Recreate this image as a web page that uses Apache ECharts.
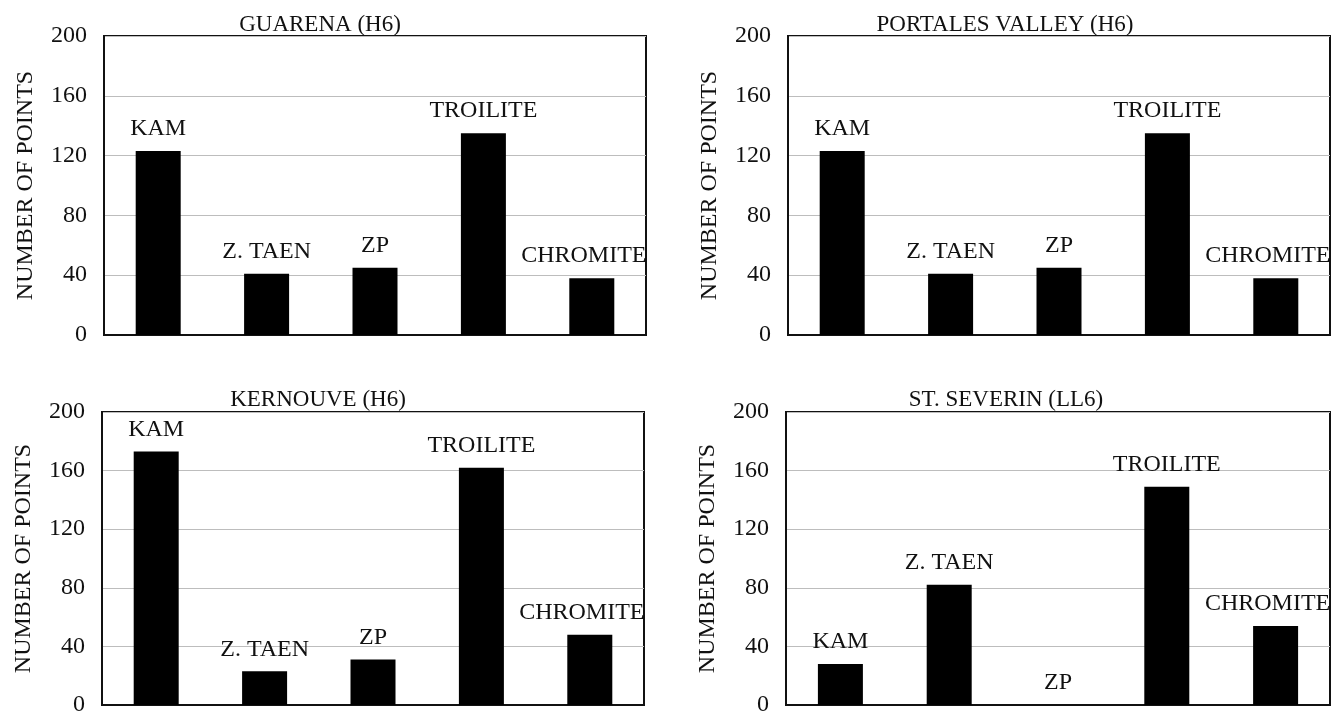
<!DOCTYPE html>
<html>
<head>
<meta charset="utf-8">
<script src="https://cdn.jsdelivr.net/npm/echarts@6/dist/echarts.min.js"></script>
<style>
  html, body { margin: 0; padding: 0; background: #fff; }
  #chart { width: 1336px; height: 717px; }
</style>
</head>
<body>
<div id="chart"></div>
<script>
// Phases counted in each meteorite
const categories = ['KAM', 'Z. TAEN', 'ZP', 'TROILITE', 'CHROMITE'];

const guarena = [123, 41, 45, 135, 38];
const portalesValley = [123, 41, 45, 135, 38];
const kernouve = [173, 23, 31, 162, 48];
const stSeverin = [28, 82, 0, 149, 54];

const panelTitles = ['GUARENA (H6)', 'PORTALES VALLEY (H6)', 'KERNOUVE (H6)', 'ST. SEVERIN (LL6)'];
const yTicks = [0, 40, 80, 120, 160, 200];
const yAxisName = 'NUMBER OF POINTS';

const panelData = [guarena, portalesValley, kernouve, stSeverin];

const FONT = 'Liberation Serif';

// panel frames (plot area of each small chart)
const grids = [
  { left: 104, right: 690, top: 36, bottom: 382 },
  { left: 788, right: 6, top: 36, bottom: 382 },
  { left: 102, right: 692, top: 412, bottom: 7 },
  { left: 786, right: 6, top: 412, bottom: 7 }
];
const titlePos = [
  { left: 315, top: 8 },
  { left: 1000, top: 8 },
  { left: 313, top: 383 },
  { left: 1001, top: 383 }
];

const option = {
  backgroundColor: '#fff',
  animation: false,
  textStyle: { fontFamily: FONT },
  title: panelTitles.map((t, i) => ({
    text: t,
    left: titlePos[i].left,
    top: titlePos[i].top,
    textAlign: 'center',
    textStyle: { fontFamily: FONT, fontSize: 23, fontWeight: 'normal', color: '#111' }
  })),
  grid: grids.map(g => Object.assign({
    show: true, borderColor: '#111', borderWidth: 2, backgroundColor: '#fff'
  }, g)),
  xAxis: grids.map((g, i) => ({
    type: 'category',
    gridIndex: i,
    data: categories,
    axisLine: { show: true, lineStyle: { color: '#111', width: 2 } },
    axisTick: { show: false },
    axisLabel: { show: false }
  })),
  yAxis: grids.map((g, i) => ({
    type: 'value',
    gridIndex: i,
    min: yTicks[0],
    max: yTicks[yTicks.length - 1],
    interval: yTicks[1] - yTicks[0],
    name: yAxisName,
    nameLocation: 'middle',
    nameRotate: 90,
    nameGap: 66,
    nameTextStyle: { fontFamily: FONT, fontSize: 24, color: '#111' },
    axisLine: { show: true, lineStyle: { color: '#111', width: 2 } },
    axisTick: { show: false },
    axisLabel: { fontFamily: FONT, fontSize: 24, color: '#111', margin: 17 },
    splitLine: { show: true, lineStyle: { color: '#bdbdbd', width: 1 } }
  })),
  series: panelData.map((vals, i) => ({
    type: 'bar',
    xAxisIndex: i,
    yAxisIndex: i,
    barWidth: 45,
    itemStyle: { color: '#000' },
    label: {
      show: true,
      position: 'top',
      distance: 10,
      formatter: '{b}',
      fontFamily: FONT,
      fontSize: 24,
      color: '#111'
    },
    // the last label is nudged left so it stays inside the frame
    data: vals.map((v, k) => k === categories.length - 1
      ? { value: v, label: { offset: [-8, 0] } }
      : v)
  }))
};

const chart = echarts.init(document.getElementById('chart'), null, { renderer: 'canvas' });
chart.setOption(option);
</script>
</body>
</html>
